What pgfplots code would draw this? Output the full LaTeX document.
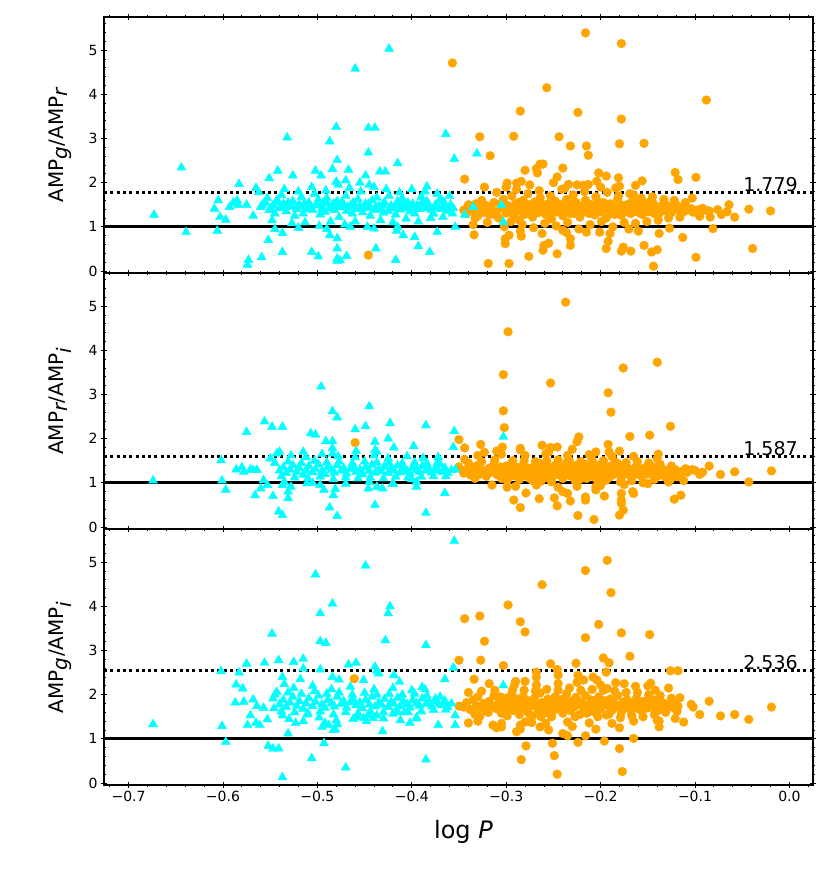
\documentclass[border=0pt]{standalone}
\usepackage{fontspec}
\setmainfont{DejaVu Sans}
\usepackage{pgfplots}
\pgfplotsset{compat=1.18}
\definecolor{cy}{HTML}{00FFFF}
\definecolor{org}{HTML}{FFA500}
\pgfplotsset{panel/.style={
  width=709pt, height=256pt, scale only axis,
  xmin=-0.726, xmax=0.025, ymin=-0.045, ymax=5.75,
  xtick={-0.7,-0.6,-0.5,-0.4,-0.3,-0.2,-0.1,0},
  minor xtick={-0.72,-0.70,...,0.02},
  ytick={0,1,2,3,4,5},
  minor ytick={0,0.2,...,5.6},
  xticklabels={},
  tick align=center, major tick length=6pt, minor tick length=3pt,
  every tick/.style={black, line width=0.9pt},
  every minor tick/.style={black, line width=0.8pt},
  axis line style={black, line width=1.2pt},
  tick label style={font=\fontsize{14}{14}\selectfont},
  /pgf/number format/assume math mode=true,
  ylabel style={font=\fontsize{20}{20}\selectfont, at={(axis description cs:-0.045,0.5)}, anchor=south, inner sep=0pt},
  xlabel style={font=\fontsize{24}{24}\selectfont, at={(axis description cs:0.507,-0.137)}, anchor=north, inner sep=0pt},
  clip=true,
}}
\pgfplotsset{
  om/.style={only marks, mark=*, mark size=4.4pt, color=org, mark options={draw=none, fill=org}},
  cm/.style={only marks, mark=triangle*, mark size=5.2pt, color=cy, mark options={draw=none, fill=cy}},
  solidl/.style={black, line width=3pt, no marks},
  dotl/.style={black, line width=3pt, dash pattern=on 3pt off 3.3pt, no marks},
}
\begin{document}
\begin{tikzpicture}
\useasboundingbox (0,0) rectangle (830pt,-882pt);
% ================= PANEL 1 =================
\begin{axis}[panel, at={(104pt,-17pt)}, anchor=north west, ylabel={AMP$_{\textit{g}}$/AMP$_{\textit{r}}$}]
\addplot[om] coordinates {
(-0.345,1.38)(-0.342,1.30)(-0.338,1.45)(-0.335,1.36)(-0.332,1.52)(-0.330,1.25)(-0.327,1.41)(-0.324,1.33)(-0.321,1.48)(-0.318,1.28)
(-0.316,1.40)(-0.313,1.55)(-0.310,1.35)(-0.308,1.20)(-0.305,1.44)(-0.303,1.62)(-0.300,1.31)(-0.298,1.48)(-0.296,1.38)(-0.294,1.70)
(-0.292,1.26)(-0.290,1.52)(-0.288,1.42)(-0.286,1.15)(-0.284,1.35)(-0.282,1.60)(-0.280,1.45)(-0.278,1.30)(-0.276,1.50)(-0.274,1.38)
(-0.272,1.22)(-0.270,1.56)(-0.268,1.42)(-0.266,1.32)(-0.264,1.66)(-0.262,1.47)(-0.260,1.36)(-0.258,1.28)(-0.256,1.52)(-0.254,1.40)
(-0.252,1.18)(-0.250,1.45)(-0.248,1.58)(-0.246,1.34)(-0.244,1.42)(-0.242,1.50)(-0.240,1.25)(-0.238,1.38)(-0.236,1.62)(-0.234,1.44)
(-0.232,1.30)(-0.230,1.48)(-0.228,1.36)(-0.226,1.55)(-0.224,1.41)(-0.222,1.22)(-0.220,1.46)(-0.218,1.35)(-0.216,1.60)(-0.214,1.42)
(-0.212,1.30)(-0.210,1.50)(-0.208,1.38)(-0.206,1.27)(-0.204,1.45)(-0.202,1.56)(-0.200,1.34)(-0.198,1.42)(-0.196,1.48)(-0.194,1.20)
(-0.192,1.39)(-0.190,1.52)(-0.188,1.31)(-0.186,1.44)(-0.184,1.36)(-0.182,1.62)(-0.180,1.40)(-0.178,1.26)(-0.176,1.46)(-0.174,1.35)
(-0.172,1.50)(-0.170,1.42)(-0.168,1.30)(-0.166,1.45)(-0.164,1.38)(-0.162,1.55)(-0.160,1.33)(-0.158,1.43)(-0.156,1.28)(-0.154,1.48)
(-0.152,1.39)(-0.150,1.34)(-0.148,1.46)(-0.146,1.40)(-0.144,1.52)(-0.142,1.36)(-0.140,1.42)(-0.138,1.30)(-0.136,1.47)(-0.134,1.39)
(-0.132,1.44)(-0.130,1.35)(-0.127,1.42)(-0.124,1.38)(-0.121,1.46)(-0.118,1.40)(-0.115,1.36)(-0.112,1.43)(-0.108,1.38)(-0.104,1.41)
(-0.100,1.36)(-0.096,1.39)(-0.092,1.42)(-0.088,1.37)(-0.123,1.48)(-0.113,1.33)(-0.102,1.33)(-0.095,1.24)
(-0.340,1.50)(-0.333,1.20)(-0.326,1.60)(-0.319,1.40)(-0.312,1.28)(-0.306,1.52)(-0.299,1.40)(-0.293,1.34)(-0.287,1.55)(-0.281,1.28)
(-0.275,1.43)(-0.269,1.35)(-0.263,1.50)(-0.257,1.42)(-0.251,1.32)(-0.245,1.48)(-0.239,1.40)(-0.233,1.54)(-0.227,1.30)(-0.221,1.40)
(-0.215,1.50)(-0.209,1.42)(-0.203,1.33)(-0.197,1.55)(-0.191,1.44)(-0.185,1.28)(-0.179,1.50)(-0.173,1.40)(-0.167,1.56)(-0.161,1.44)
(-0.155,1.38)(-0.149,1.55)(-0.143,1.30)(-0.137,1.40)(-0.131,1.50)(-0.125,1.32)(-0.119,1.48)
(-0.335,1.05)(-0.320,1.10)(-0.310,1.78)(-0.302,1.00)(-0.295,1.12)(-0.289,1.85)(-0.283,1.05)(-0.277,1.75)(-0.271,0.98)(-0.265,1.82)
(-0.259,1.08)(-0.253,1.70)(-0.247,1.02)(-0.241,1.85)(-0.235,1.10)(-0.229,1.72)(-0.223,0.95)(-0.217,1.80)(-0.211,1.05)(-0.205,1.68)
(-0.199,1.12)(-0.193,1.78)(-0.187,1.00)(-0.181,1.70)(-0.175,1.10)(-0.169,1.75)(-0.163,1.08)(-0.157,1.65)(-0.151,1.12)(-0.145,1.68)
(-0.139,1.15)(-0.133,1.62)(-0.128,1.20)(-0.122,1.60)(-0.116,1.22)(-0.110,1.55)(-0.285,0.90)(-0.262,0.85)(-0.240,0.92)(-0.215,0.88)
(-0.190,0.85)(-0.170,0.95)(-0.300,1.90)(-0.275,1.95)(-0.250,2.00)(-0.225,1.95)(-0.200,1.90)(-0.180,1.92)
(-0.446,0.36)(-0.357,4.71)(-0.328,3.04)(-0.317,2.61)(-0.344,2.08)(-0.323,1.90)(-0.334,0.82)(-0.319,0.17)(-0.297,0.17)(-0.285,3.62)
(-0.292,3.05)(-0.280,2.28)(-0.289,1.99)(-0.284,2.03)(-0.299,1.99)(-0.268,2.32)(-0.264,2.42)(-0.261,2.42)(-0.267,2.22)(-0.257,4.15)
(-0.276,0.33)(-0.284,0.79)(-0.301,0.73)(-0.301,0.62)(-0.297,0.81)(-0.261,0.47)(-0.260,0.58)(-0.255,0.63)(-0.246,0.39)(-0.244,3.04)
(-0.232,2.83)(-0.240,2.33)(-0.246,2.13)(-0.234,1.96)(-0.238,1.87)(-0.224,3.59)(-0.216,5.39)(-0.215,2.83)(-0.213,2.62)(-0.204,2.03)
(-0.202,2.22)(-0.194,2.15)(-0.218,1.94)(-0.213,1.96)(-0.232,0.73)(-0.232,0.58)(-0.236,0.87)(-0.194,0.51)(-0.192,0.67)(-0.201,0.88)
(-0.178,5.15)(-0.178,3.44)(-0.180,2.88)(-0.181,2.11)(-0.184,1.88)(-0.176,0.54)(-0.178,0.45)(-0.168,0.45)(-0.160,0.90)(-0.154,0.58)
(-0.146,0.43)(-0.140,0.48)(-0.144,0.11)(-0.138,0.85)(-0.154,2.89)(-0.163,1.94)(-0.156,2.04)(-0.165,1.72)(-0.127,0.97)(-0.113,0.76)
(-0.121,2.23)(-0.118,2.07)(-0.099,2.12)(-0.088,3.87)(-0.099,0.31)(-0.103,1.65)(-0.081,0.96)(-0.085,1.36)(-0.084,1.22)(-0.076,1.39)
(-0.072,1.28)(-0.066,1.34)(-0.064,1.50)(-0.058,1.22)(-0.043,1.40)(-0.039,0.51)(-0.020,1.36)
};
\addplot[cm] coordinates {
(-0.560,1.45)(-0.555,1.55)(-0.551,1.38)(-0.547,1.48)(-0.543,1.60)(-0.540,1.42)(-0.536,1.52)(-0.533,1.35)(-0.529,1.46)(-0.526,1.58)
(-0.522,1.40)(-0.519,1.50)(-0.515,1.30)(-0.512,1.44)(-0.509,1.55)(-0.505,1.38)(-0.502,1.48)(-0.499,1.62)(-0.495,1.42)(-0.492,1.34)
(-0.489,1.52)(-0.485,1.45)(-0.482,1.38)(-0.479,1.58)(-0.475,1.44)(-0.472,1.50)(-0.469,1.36)(-0.465,1.48)(-0.462,1.55)(-0.459,1.40)
(-0.455,1.46)(-0.452,1.33)(-0.449,1.52)(-0.445,1.43)(-0.442,1.60)(-0.439,1.38)(-0.435,1.47)(-0.432,1.41)(-0.429,1.55)(-0.425,1.36)
(-0.422,1.48)(-0.419,1.44)(-0.415,1.58)(-0.412,1.39)(-0.409,1.50)(-0.405,1.42)(-0.402,1.35)(-0.399,1.52)(-0.395,1.45)(-0.392,1.40)
(-0.389,1.56)(-0.385,1.43)(-0.382,1.48)(-0.379,1.38)(-0.375,1.50)(-0.372,1.44)(-0.368,1.40)(-0.365,1.52)(-0.362,1.36)(-0.358,1.45)
(-0.558,1.50)(-0.549,1.42)(-0.541,1.55)(-0.534,1.45)(-0.528,1.50)(-0.521,1.46)(-0.514,1.52)(-0.507,1.45)(-0.500,1.50)(-0.494,1.55)
(-0.487,1.42)(-0.481,1.48)(-0.474,1.55)(-0.468,1.45)(-0.461,1.50)(-0.453,1.42)(-0.446,1.52)(-0.438,1.46)(-0.431,1.50)(-0.423,1.42)
(-0.416,1.50)(-0.408,1.46)(-0.401,1.44)(-0.394,1.48)(-0.387,1.50)(-0.381,1.42)(-0.374,1.46)(-0.366,1.44)(-0.359,1.50)
(-0.553,1.65)(-0.545,1.30)(-0.538,1.72)(-0.531,1.55)(-0.524,1.25)(-0.517,1.68)(-0.510,1.40)(-0.503,1.75)(-0.497,1.28)(-0.490,1.65)
(-0.483,1.52)(-0.477,1.22)(-0.470,1.70)(-0.463,1.30)(-0.457,1.62)(-0.450,1.45)(-0.444,1.25)(-0.437,1.66)(-0.430,1.32)(-0.424,1.70)
(-0.417,1.28)(-0.410,1.64)(-0.404,1.55)(-0.397,1.30)(-0.390,1.68)(-0.384,1.58)(-0.377,1.30)(-0.370,1.62)(-0.364,1.48)(-0.357,1.30)
(-0.575,1.50)(-0.585,1.60)(-0.568,1.25)(-0.562,1.78)(-0.548,1.15)(-0.535,1.85)(-0.527,1.08)(-0.520,1.80)(-0.513,1.10)(-0.506,1.90)
(-0.498,1.02)(-0.491,1.82)(-0.486,1.12)(-0.478,1.95)(-0.471,1.05)(-0.466,1.88)(-0.460,1.12)(-0.454,1.80)(-0.447,1.00)(-0.440,1.90)
(-0.433,1.15)(-0.427,1.85)(-0.420,1.10)(-0.413,1.78)(-0.406,1.18)(-0.400,1.85)(-0.393,1.12)(-0.386,1.80)(-0.380,1.20)(-0.373,1.75)
(-0.367,1.22)(-0.360,1.70)(-0.545,0.95)(-0.520,0.98)(-0.490,0.95)(-0.465,1.00)(-0.440,0.96)(-0.415,1.00)(-0.470,2.05)(-0.455,2.00)
(-0.480,2.02)(-0.445,1.95)
(-0.673,1.27)(-0.644,2.34)(-0.639,0.88)(-0.606,0.91)(-0.609,1.41)(-0.605,1.60)(-0.603,1.22)(-0.597,1.16)(-0.593,1.45)(-0.589,1.55)
(-0.584,1.50)(-0.583,1.97)(-0.574,0.14)(-0.573,0.25)(-0.565,1.88)(-0.559,0.31)(-0.552,0.70)(-0.551,2.10)(-0.542,2.27)(-0.537,0.86)
(-0.537,0.43)(-0.532,3.02)(-0.526,2.16)(-0.506,0.43)(-0.499,0.33)(-0.502,2.27)(-0.496,2.16)(-0.487,2.93)(-0.480,3.26)(-0.479,2.51)
(-0.484,2.31)(-0.479,0.74)(-0.479,0.51)(-0.479,0.28)(-0.479,0.23)(-0.469,0.34)(-0.487,0.81)(-0.476,0.24)(-0.467,2.29)(-0.460,4.58)
(-0.446,3.24)(-0.439,3.24)(-0.446,2.68)(-0.449,2.16)(-0.434,2.25)(-0.428,2.25)(-0.424,5.03)(-0.415,2.44)(-0.438,0.51)(-0.417,0.25)
(-0.416,0.91)(-0.409,0.81)(-0.397,0.77)(-0.393,0.56)
(-0.364,3.10)(-0.355,2.54)(-0.331,2.66)(-0.384,1.91)(-0.388,1.60)(-0.375,1.42)(-0.367,1.57)(-0.356,1.42)(-0.344,1.27)(-0.335,1.45)
(-0.305,1.49)(-0.373,0.88)(-0.381,0.43)(-0.354,1.00)(-0.303,1.11)
};
\addplot[solidl] coordinates {(-0.726,1) (0.025,1)};
\addplot[dotl] coordinates {(-0.726,1.779) (0.025,1.779)};
\node[anchor=south east, inner sep=0pt, font=\fontsize{19}{19}\selectfont] at (axis cs:0.009,1.80) {1.779};
\end{axis}
% ================= PANEL 2 =================
\begin{axis}[panel, at={(104pt,-273pt)}, anchor=north west, ylabel={AMP$_{\textit{r}}$/AMP$_{\textit{i}}$}]
\addplot[om] coordinates {
(-0.345,1.22)(-0.342,1.30)(-0.338,1.18)(-0.335,1.35)(-0.332,1.25)(-0.330,1.40)(-0.327,1.20)(-0.324,1.28)(-0.321,1.15)(-0.318,1.33)
(-0.316,1.24)(-0.313,1.42)(-0.310,1.19)(-0.308,1.30)(-0.305,1.10)(-0.303,1.26)(-0.300,1.38)(-0.298,1.20)(-0.296,1.31)(-0.294,1.45)
(-0.292,1.16)(-0.290,1.27)(-0.288,1.35)(-0.286,1.08)(-0.284,1.22)(-0.282,1.40)(-0.280,1.29)(-0.278,1.15)(-0.276,1.33)(-0.274,1.24)
(-0.272,1.05)(-0.270,1.37)(-0.268,1.26)(-0.266,1.18)(-0.264,1.44)(-0.262,1.30)(-0.260,1.21)(-0.258,1.12)(-0.256,1.36)(-0.254,1.25)
(-0.252,1.02)(-0.250,1.31)(-0.248,1.40)(-0.246,1.19)(-0.244,1.28)(-0.242,1.34)(-0.240,1.10)(-0.238,1.24)(-0.236,1.45)(-0.234,1.29)
(-0.232,1.16)(-0.230,1.33)(-0.228,1.22)(-0.226,1.39)(-0.224,1.27)(-0.222,1.08)(-0.220,1.30)(-0.218,1.20)(-0.216,1.42)(-0.214,1.26)
(-0.212,1.15)(-0.210,1.35)(-0.208,1.24)(-0.206,1.12)(-0.204,1.30)(-0.202,1.40)(-0.200,1.19)(-0.198,1.27)(-0.196,1.33)(-0.194,1.06)
(-0.192,1.25)(-0.190,1.37)(-0.188,1.17)(-0.186,1.29)(-0.184,1.22)(-0.182,1.44)(-0.180,1.26)(-0.178,1.12)(-0.176,1.31)(-0.174,1.20)
(-0.172,1.35)(-0.170,1.27)(-0.168,1.16)(-0.166,1.30)(-0.164,1.23)(-0.162,1.38)(-0.160,1.19)(-0.158,1.28)(-0.156,1.14)(-0.154,1.33)
(-0.152,1.25)(-0.150,1.20)(-0.148,1.31)(-0.146,1.26)(-0.144,1.36)(-0.142,1.21)(-0.140,1.28)(-0.138,1.17)(-0.136,1.32)(-0.134,1.25)
(-0.132,1.29)(-0.130,1.21)(-0.127,1.27)(-0.124,1.23)(-0.121,1.30)(-0.118,1.25)(-0.115,1.21)(-0.112,1.28)(-0.108,1.24)(-0.110,1.32)
(-0.100,1.28)(-0.092,1.24)
(-0.340,1.45)(-0.333,1.10)(-0.326,1.48)(-0.319,1.26)(-0.312,1.52)(-0.306,1.36)(-0.299,1.05)(-0.293,1.50)(-0.287,1.20)(-0.281,1.50)
(-0.275,1.10)(-0.269,1.48)(-0.263,1.04)(-0.257,1.50)(-0.251,1.15)(-0.245,1.52)(-0.239,1.32)(-0.233,1.50)(-0.227,1.05)(-0.221,1.48)
(-0.215,1.10)(-0.209,1.52)(-0.203,1.05)(-0.197,1.50)(-0.191,1.12)(-0.185,1.48)(-0.179,1.02)(-0.173,1.46)(-0.167,1.05)(-0.161,1.48)
(-0.155,1.00)(-0.149,1.45)(-0.143,1.08)(-0.137,1.42)(-0.131,1.12)(-0.125,1.38)(-0.119,1.14)
(-0.330,1.62)(-0.315,0.95)(-0.305,1.65)(-0.290,0.92)(-0.280,1.62)(-0.268,0.95)(-0.258,1.66)(-0.245,0.90)(-0.235,1.62)(-0.225,0.92)
(-0.212,1.64)(-0.200,0.94)(-0.188,1.60)(-0.175,0.96)(-0.165,1.60)(-0.150,0.98)(-0.140,1.55)(-0.128,1.02)(-0.310,1.72)(-0.285,1.75)
(-0.255,1.70)(-0.230,1.76)(-0.205,1.70)(-0.180,1.72)
(-0.460,1.91)(-0.350,1.98)(-0.350,1.36)(-0.344,1.79)(-0.344,1.53)(-0.327,1.87)(-0.323,1.69)(-0.303,3.45)(-0.303,2.63)(-0.302,2.25)
(-0.304,1.81)(-0.298,4.42)(-0.299,0.90)(-0.292,0.61)(-0.285,0.44)(-0.285,1.78)(-0.279,0.77)(-0.265,0.64)(-0.262,1.85)(-0.253,1.80)
(-0.246,1.81)(-0.253,3.26)(-0.249,0.66)(-0.246,0.48)(-0.240,0.80)(-0.235,0.76)(-0.232,0.59)(-0.237,5.09)(-0.225,1.93)(-0.223,2.04)
(-0.224,0.26)(-0.216,0.68)(-0.216,0.61)(-0.205,0.84)(-0.205,0.91)(-0.196,0.70)(-0.207,0.17)(-0.192,3.04)(-0.189,2.60)(-0.192,1.87)
(-0.191,1.70)(-0.180,0.27)(-0.178,0.76)(-0.178,0.61)(-0.178,0.53)(-0.176,0.38)(-0.176,3.60)(-0.169,2.05)(-0.166,0.80)(-0.165,0.76)
(-0.148,2.08)(-0.140,3.73)(-0.139,1.65)(-0.126,2.28)(-0.122,0.63)(-0.115,0.72)(-0.112,1.05)(-0.126,1.08)(-0.103,1.30)(-0.095,1.19)
(-0.085,1.38)(-0.073,1.19)(-0.058,1.25)(-0.043,1.02)(-0.019,1.27)
};
\addplot[cm] coordinates {
(-0.540,1.28)(-0.536,1.35)(-0.533,1.22)(-0.529,1.30)(-0.526,1.40)(-0.522,1.25)(-0.519,1.33)(-0.515,1.18)(-0.512,1.28)(-0.509,1.38)
(-0.505,1.24)(-0.502,1.31)(-0.499,1.42)(-0.495,1.27)(-0.492,1.20)(-0.489,1.35)(-0.485,1.29)(-0.482,1.23)(-0.479,1.40)(-0.475,1.28)
(-0.472,1.33)(-0.469,1.21)(-0.465,1.31)(-0.462,1.37)(-0.459,1.25)(-0.455,1.30)(-0.452,1.19)(-0.449,1.35)(-0.445,1.27)(-0.442,1.41)
(-0.439,1.23)(-0.435,1.30)(-0.432,1.26)(-0.429,1.37)(-0.425,1.22)(-0.422,1.31)(-0.419,1.28)(-0.415,1.39)(-0.412,1.24)(-0.409,1.33)
(-0.405,1.27)(-0.402,1.21)(-0.399,1.35)(-0.395,1.29)(-0.392,1.25)(-0.389,1.38)(-0.385,1.28)(-0.382,1.32)(-0.379,1.23)(-0.375,1.33)
(-0.372,1.28)(-0.368,1.25)(-0.365,1.34)(-0.362,1.22)(-0.358,1.29)
(-0.545,1.45)(-0.538,1.15)(-0.531,1.48)(-0.524,1.12)(-0.517,1.45)(-0.510,1.10)(-0.503,1.50)(-0.497,1.14)(-0.490,1.46)(-0.483,1.08)
(-0.477,1.48)(-0.470,1.12)(-0.463,1.44)(-0.457,1.10)(-0.450,1.48)(-0.444,1.12)(-0.437,1.46)(-0.430,1.10)(-0.424,1.45)(-0.417,1.14)
(-0.410,1.44)(-0.404,1.12)(-0.397,1.46)(-0.390,1.14)(-0.384,1.44)(-0.377,1.15)(-0.370,1.42)(-0.364,1.15)
(-0.550,1.55)(-0.528,1.62)(-0.512,1.58)(-0.495,1.65)(-0.478,1.60)(-0.460,1.58)(-0.440,1.62)(-0.425,1.55)(-0.405,1.60)(-0.388,1.56)
(-0.372,1.58)(-0.535,1.02)(-0.505,1.00)(-0.470,0.98)(-0.445,1.02)(-0.420,0.97)(-0.395,1.02)
(-0.674,1.05)(-0.602,1.51)(-0.601,1.05)(-0.597,0.84)(-0.586,1.30)(-0.580,1.35)(-0.578,1.25)(-0.571,1.30)(-0.568,1.29)(-0.564,1.29)
(-0.575,2.15)(-0.556,2.39)(-0.548,2.27)(-0.537,2.27)(-0.566,0.72)(-0.560,0.87)(-0.557,1.06)(-0.553,0.95)(-0.547,0.70)(-0.541,0.35)
(-0.537,0.27)(-0.531,0.65)(-0.531,0.80)(-0.528,0.91)(-0.537,0.95)(-0.540,1.70)(-0.543,1.66)(-0.515,1.70)(-0.507,2.12)(-0.502,2.09)
(-0.511,0.99)(-0.496,3.18)(-0.484,2.62)(-0.479,2.48)(-0.491,1.94)(-0.484,1.94)(-0.484,1.78)(-0.484,1.66)(-0.497,0.95)(-0.493,0.84)
(-0.483,0.72)(-0.481,0.86)(-0.487,0.44)(-0.479,0.25)(-0.460,2.21)(-0.459,1.72)(-0.449,2.28)(-0.445,2.73)(-0.439,1.93)(-0.439,1.74)
(-0.437,1.70)(-0.446,0.87)(-0.439,0.50)(-0.437,0.91)(-0.431,0.87)(-0.423,2.35)(-0.425,2.00)(-0.419,1.80)(-0.420,0.99)(-0.398,1.83)
(-0.385,2.30)(-0.400,1.08)(-0.395,0.91)(-0.385,0.32)(-0.375,1.29)(-0.373,1.45)(-0.365,1.29)(-0.365,0.77)(-0.356,1.81)(-0.355,2.17)
(-0.354,1.30)(-0.303,2.04)
};
\addplot[solidl] coordinates {(-0.726,1) (0.025,1)};
\addplot[dotl] coordinates {(-0.726,1.587) (0.025,1.587)};
\node[anchor=south east, inner sep=0pt, font=\fontsize{19}{19}\selectfont] at (axis cs:0.009,1.61) {1.587};
\end{axis}
% ================= PANEL 3 =================
\begin{axis}[panel, at={(104pt,-529pt)}, anchor=north west, ylabel={AMP$_{\textit{g}}$/AMP$_{\textit{i}}$},
  xticklabels={−0.7,−0.6,−0.5,−0.4,−0.3,−0.2,−0.1,0.0}, xlabel={log \textit{P}}]
\addplot[om] coordinates {
(-0.345,1.72)(-0.342,1.82)(-0.338,1.66)(-0.335,1.88)(-0.332,1.75)(-0.330,1.95)(-0.327,1.70)(-0.324,1.80)(-0.321,1.62)(-0.318,1.85)
(-0.316,1.74)(-0.313,1.98)(-0.310,1.68)(-0.308,1.82)(-0.305,1.58)(-0.303,1.76)(-0.300,1.92)(-0.298,1.70)(-0.296,1.84)(-0.294,2.02)
(-0.292,1.64)(-0.290,1.78)(-0.288,1.90)(-0.286,1.55)(-0.284,1.72)(-0.282,1.96)(-0.280,1.80)(-0.278,1.62)(-0.276,1.86)(-0.274,1.74)
(-0.272,1.52)(-0.270,1.92)(-0.268,1.77)(-0.266,1.66)(-0.264,2.04)(-0.262,1.82)(-0.260,1.70)(-0.258,1.60)(-0.256,1.90)(-0.254,1.75)
(-0.252,1.50)(-0.250,1.84)(-0.248,1.96)(-0.246,1.68)(-0.244,1.79)(-0.242,1.88)(-0.240,1.58)(-0.238,1.74)(-0.236,2.02)(-0.234,1.81)
(-0.232,1.64)(-0.230,1.86)(-0.228,1.72)(-0.226,1.94)(-0.224,1.78)(-0.222,1.55)(-0.220,1.82)(-0.218,1.70)(-0.216,1.98)(-0.214,1.76)
(-0.212,1.62)(-0.210,1.88)(-0.208,1.74)(-0.206,1.60)(-0.204,1.82)(-0.202,1.95)(-0.200,1.68)(-0.198,1.78)(-0.196,1.86)(-0.194,1.54)
(-0.192,1.75)(-0.190,1.90)(-0.188,1.65)(-0.186,1.80)(-0.184,1.72)(-0.182,1.98)(-0.180,1.76)(-0.178,1.60)(-0.176,1.83)(-0.174,1.70)
(-0.172,1.88)(-0.170,1.78)(-0.168,1.64)(-0.166,1.82)(-0.164,1.73)(-0.162,1.92)(-0.160,1.68)(-0.158,1.79)(-0.156,1.62)(-0.154,1.85)
(-0.152,1.75)(-0.150,1.70)(-0.148,1.82)(-0.146,1.76)(-0.144,1.88)(-0.142,1.70)(-0.140,1.78)(-0.138,1.65)(-0.136,1.83)(-0.134,1.74)
(-0.132,1.80)(-0.130,1.70)(-0.127,1.77)(-0.124,1.72)(-0.121,1.80)(-0.118,1.74)
(-0.340,2.05)(-0.333,1.55)(-0.326,2.08)(-0.319,1.60)(-0.312,2.10)(-0.306,1.95)(-0.299,1.52)(-0.293,2.12)(-0.287,1.65)(-0.281,2.10)
(-0.275,1.55)(-0.269,2.08)(-0.263,1.50)(-0.257,2.12)(-0.251,1.62)(-0.245,2.10)(-0.239,1.90)(-0.233,2.15)(-0.227,1.50)(-0.221,2.10)
(-0.215,1.58)(-0.209,2.12)(-0.203,1.50)(-0.197,2.10)(-0.191,1.56)(-0.185,2.08)(-0.179,1.48)(-0.173,2.05)(-0.167,1.52)(-0.161,2.05)
(-0.155,1.50)(-0.149,2.00)(-0.143,1.55)(-0.137,1.98)(-0.131,1.60)(-0.125,1.92)(-0.119,1.62)
(-0.330,1.40)(-0.318,2.25)(-0.305,1.35)(-0.290,2.30)(-0.280,1.38)(-0.268,2.22)(-0.258,1.35)(-0.245,2.25)(-0.235,1.38)(-0.225,2.28)
(-0.212,1.36)(-0.200,2.22)(-0.188,1.35)(-0.175,2.25)(-0.165,1.40)(-0.150,2.20)(-0.140,1.42)(-0.128,2.15)(-0.310,1.25)(-0.285,1.22)
(-0.255,1.20)(-0.230,1.28)(-0.205,1.22)(-0.180,1.25)
(-0.461,2.36)(-0.350,2.78)(-0.350,1.74)(-0.344,3.72)(-0.328,3.78)(-0.327,2.78)(-0.323,3.21)(-0.334,2.35)(-0.340,1.36)(-0.328,1.51)
(-0.314,1.31)(-0.305,1.27)(-0.303,2.66)(-0.298,4.03)(-0.291,2.23)(-0.285,3.65)(-0.280,3.42)(-0.280,2.30)(-0.289,1.16)(-0.285,1.31)
(-0.284,0.53)(-0.279,0.84)(-0.268,2.51)(-0.268,2.40)(-0.262,4.49)(-0.264,1.27)(-0.273,1.37)(-0.253,2.70)(-0.246,2.57)(-0.245,2.44)
(-0.251,0.90)(-0.249,0.62)(-0.246,0.20)(-0.240,1.12)(-0.235,1.07)(-0.226,2.71)(-0.224,2.44)(-0.224,0.92)(-0.216,4.81)(-0.216,3.29)
(-0.216,1.07)(-0.218,2.33)(-0.208,2.40)(-0.204,2.33)(-0.202,3.59)(-0.197,2.83)(-0.191,2.72)(-0.194,2.51)(-0.193,5.04)(-0.189,4.31)
(-0.196,0.95)(-0.184,2.27)(-0.193,2.14)(-0.178,3.40)(-0.169,2.87)(-0.180,0.78)(-0.177,0.26)(-0.165,1.01)(-0.163,2.19)(-0.148,3.36)
(-0.147,2.26)(-0.142,2.10)(-0.138,1.40)(-0.138,1.27)(-0.126,2.54)(-0.118,2.54)(-0.121,1.46)(-0.112,1.38)(-0.116,1.93)(-0.104,1.78)
(-0.102,1.72)(-0.095,1.55)(-0.085,1.85)(-0.073,1.52)(-0.058,1.55)(-0.043,1.44)(-0.019,1.72)
};
\addplot[cm] coordinates {
(-0.540,1.78)(-0.536,1.88)(-0.533,1.72)(-0.529,1.82)(-0.526,1.95)(-0.522,1.75)(-0.519,1.85)(-0.515,1.68)(-0.512,1.80)(-0.509,1.92)
(-0.505,1.74)(-0.502,1.84)(-0.499,1.98)(-0.495,1.78)(-0.492,1.70)(-0.489,1.88)(-0.485,1.80)(-0.482,1.73)(-0.479,1.95)(-0.475,1.79)
(-0.472,1.85)(-0.469,1.71)(-0.465,1.83)(-0.462,1.90)(-0.459,1.76)(-0.455,1.82)(-0.452,1.69)(-0.449,1.88)(-0.445,1.78)(-0.442,1.95)
(-0.439,1.73)(-0.435,1.82)(-0.432,1.77)(-0.429,1.90)(-0.425,1.72)(-0.422,1.83)(-0.419,1.79)(-0.415,1.93)(-0.412,1.74)(-0.409,1.85)
(-0.405,1.78)(-0.402,1.71)(-0.399,1.88)(-0.395,1.80)(-0.392,1.75)(-0.389,1.91)(-0.385,1.79)(-0.382,1.84)(-0.379,1.73)(-0.375,1.85)
(-0.372,1.79)(-0.368,1.76)(-0.365,1.86)(-0.362,1.72)(-0.358,1.80)
(-0.545,2.00)(-0.538,1.62)(-0.531,2.05)(-0.524,1.60)(-0.517,2.02)(-0.510,1.58)(-0.503,2.08)(-0.497,1.62)(-0.490,2.02)(-0.483,1.55)
(-0.477,2.05)(-0.470,1.60)(-0.463,2.00)(-0.457,1.58)(-0.450,2.04)(-0.444,1.62)(-0.437,2.00)(-0.430,1.60)(-0.424,2.02)(-0.417,1.62)
(-0.410,2.00)(-0.404,1.60)(-0.397,2.02)(-0.390,1.62)(-0.384,1.98)(-0.377,1.65)(-0.370,1.95)(-0.364,1.66)
(-0.530,1.45)(-0.515,1.40)(-0.498,1.48)(-0.480,1.42)(-0.462,1.45)(-0.448,1.40)(-0.430,1.46)(-0.412,1.42)(-0.395,1.48)(-0.525,2.15)
(-0.505,2.20)(-0.485,2.12)(-0.465,2.18)(-0.440,2.12)(-0.420,2.15)(-0.400,2.10)
(-0.674,1.33)(-0.601,1.29)(-0.602,2.53)(-0.597,0.93)(-0.583,2.50)(-0.575,2.70)(-0.586,2.23)(-0.579,2.14)(-0.587,1.82)(-0.578,1.84)
(-0.571,1.53)(-0.574,1.31)(-0.565,1.36)(-0.561,1.31)(-0.568,1.89)(-0.564,1.74)(-0.557,1.70)(-0.553,1.44)(-0.546,1.69)(-0.547,1.91)
(-0.556,2.72)(-0.548,3.38)(-0.552,0.84)(-0.547,0.78)(-0.541,0.78)(-0.537,0.13)(-0.531,1.12)(-0.541,2.78)(-0.537,2.40)(-0.535,2.24)
(-0.537,1.53)(-0.543,2.06)(-0.525,2.74)(-0.515,2.81)(-0.515,2.59)(-0.518,2.35)(-0.523,1.36)(-0.511,1.55)(-0.506,0.56)(-0.502,4.72)
(-0.497,3.84)(-0.484,4.06)(-0.497,3.21)(-0.491,3.17)(-0.497,2.57)(-0.484,2.40)(-0.477,2.34)(-0.493,0.90)(-0.495,1.27)(-0.492,1.36)
(-0.488,1.31)(-0.479,1.33)(-0.481,1.21)(-0.483,1.20)(-0.470,0.35)(-0.467,2.68)(-0.459,2.72)(-0.451,2.33)(-0.449,4.92)(-0.458,1.50)
(-0.451,1.47)(-0.446,1.53)(-0.441,1.47)(-0.437,1.53)(-0.439,2.63)(-0.435,2.48)(-0.437,2.54)(-0.431,1.17)(-0.428,3.23)(-0.425,3.84)
(-0.423,4.00)(-0.419,2.44)(-0.413,2.29)(-0.420,1.57)(-0.415,1.61)(-0.408,1.60)(-0.402,1.36)(-0.395,1.46)(-0.385,3.12)(-0.389,2.17)
(-0.386,2.12)(-0.385,0.53)(-0.372,1.31)(-0.354,1.31)(-0.375,1.91)(-0.365,1.82)(-0.365,2.35)(-0.356,2.61)(-0.355,5.48)(-0.303,2.21)
(-0.354,1.53)
};
\addplot[solidl] coordinates {(-0.726,1) (0.025,1)};
\addplot[dotl] coordinates {(-0.726,2.536) (0.025,2.536)};
\node[anchor=south east, inner sep=0pt, font=\fontsize{19}{19}\selectfont] at (axis cs:0.009,2.56) {2.536};
\end{axis}
\end{tikzpicture}
\end{document}
